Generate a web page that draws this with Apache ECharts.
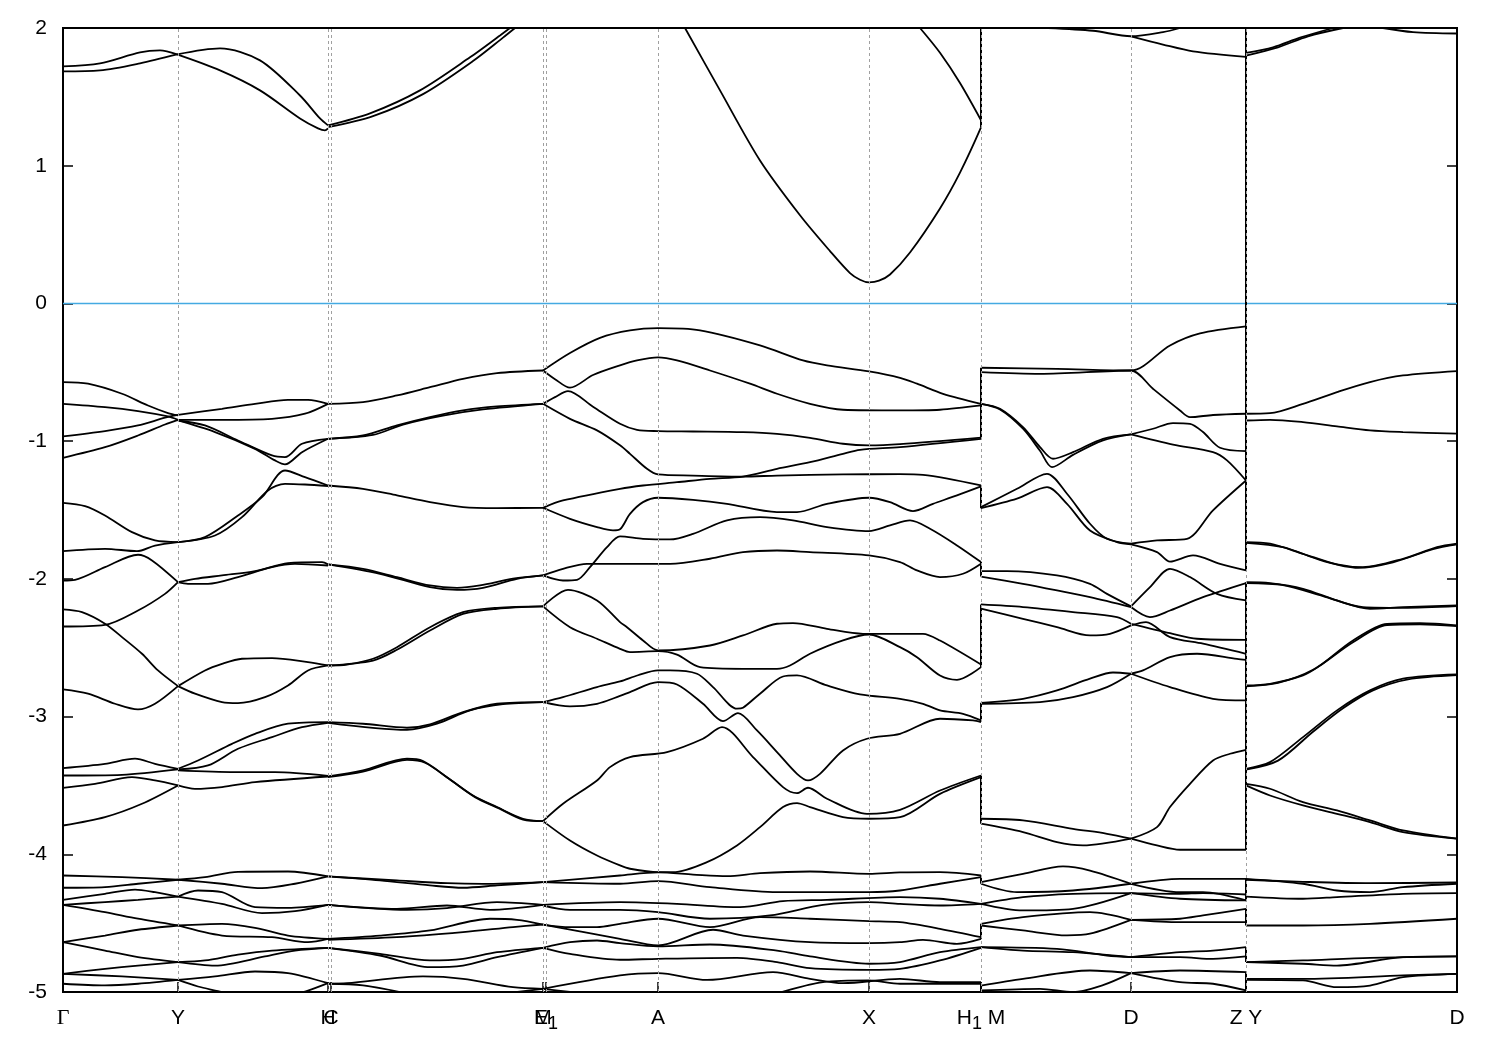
<!DOCTYPE html>
<html><head><meta charset="utf-8">
<script src="https://cdn.jsdelivr.net/npm/echarts@6/dist/echarts.min.js"></script>
<style>html,body{margin:0;padding:0;background:#fff}#c{width:1500px;height:1050px}</style>
</head><body><div id="c"></div>
<script>
// High-symmetry k-points (path distance units) and their labels
const kTicks = [0,115,265,268,480,483,595,806,918,1068,1183,1394];
const kLabels = ['Γ','Y','H','C','M','E1','A','X','H1M','D','ZY','D'];
const kGrid = [115,265,268,480,483,595,806,918,1068,1183];
const yTicks = [-5,-4,-3,-2,-1,0,1,2];

// Γ -> Y
const segGY = [
 [[0,1.721],[37,1.743],[77,1.823],[97,1.837],[114,1.808]],
 [[0,1.685],[37,1.692],[77,1.743],[114,1.808]],
 [[0,-0.571],[25,-0.583],[59,-0.656],[85,-0.741],[105,-0.796],[115,-0.813]],
 [[0,-0.729],[42,-0.753],[75,-0.782],[105,-0.821],[115,-0.845]],
 [[0,-0.966],[42,-0.927],[75,-0.886],[102,-0.830],[115,-0.810]],
 [[0,-1.121],[42,-1.044],[75,-0.959],[102,-0.879],[115,-0.845]],
 [[0,-1.448],[22,-1.472],[42,-1.540],[69,-1.661],[92,-1.721],[115,-1.733]],
 [[0,-1.799],[42,-1.782],[74,-1.799],[92,-1.758],[115,-1.733]],
 [[0,-2.012],[12,-2.007],[42,-1.915],[75,-1.825],[89,-1.866],[115,-2.024]],
 [[0,-2.222],[19,-2.242],[42,-2.326],[59,-2.423],[79,-2.544],[95,-2.665],[115,-2.779]],
 [[0,-2.346],[42,-2.334],[75,-2.230],[102,-2.109],[115,-2.024]],
 [[0,-2.803],[25,-2.834],[52,-2.907],[75,-2.948],[92,-2.907],[115,-2.779]],
 [[0,-3.374],[42,-3.343],[72,-3.306],[92,-3.343],[115,-3.379]],
 [[0,-3.428],[59,-3.423],[115,-3.384]],
 [[0,-3.517],[32,-3.488],[69,-3.440],[92,-3.464],[115,-3.500]],
 [[0,-3.791],[42,-3.730],[79,-3.633],[115,-3.500]],
 [[0,-4.154],[59,-4.166],[115,-4.185]],
 [[0,-4.243],[42,-4.238],[75,-4.214],[115,-4.185]],
 [[0,-4.331],[42,-4.287],[72,-4.256],[92,-4.275],[115,-4.307]],
 [[0,-4.367],[42,-4.347],[75,-4.331],[115,-4.307]],
 [[0,-4.367],[42,-4.420],[75,-4.468],[115,-4.517]],
 [[0,-4.638],[42,-4.590],[75,-4.548],[115,-4.517]],
 [[0,-4.638],[42,-4.699],[75,-4.747],[115,-4.783]],
 [[0,-4.868],[42,-4.832],[75,-4.808],[115,-4.783]],
 [[0,-4.940],[42,-4.952],[75,-4.940],[115,-4.912]],
 [[0,-4.868],[59,-4.887],[115,-4.912]]
];

// Y -> H
const segYH = [
 [[114,1.808],[157,1.852],[197,1.765],[237,1.510],[257,1.343],[265,1.293]],
 [[114,1.808],[157,1.692],[197,1.547],[237,1.343],[255,1.271],[262,1.256],[265,1.271]],
 [[115,-0.809],[159,-0.765],[192,-0.729],[225,-0.700],[245,-0.700],[265,-0.729]],
 [[115,-0.845],[159,-0.845],[209,-0.838],[242,-0.801],[265,-0.729]],
 [[115,-0.850],[142,-0.886],[175,-0.995],[209,-1.104],[222,-1.116],[239,-1.019],[265,-0.983]],
 [[115,-0.850],[152,-0.934],[192,-1.056],[212,-1.140],[222,-1.169],[239,-1.080],[265,-0.983]],
 [[115,-1.733],[142,-1.697],[175,-1.540],[199,-1.407],[222,-1.213],[242,-1.261],[265,-1.322]],
 [[115,-1.733],[152,-1.685],[179,-1.552],[205,-1.358],[222,-1.310],[242,-1.315],[265,-1.327]],
 [[115,-2.024],[132,-2.000],[159,-1.975],[192,-1.944],[225,-1.886],[259,-1.878],[265,-1.895]],
 [[115,-2.024],[125,-2.036],[145,-2.036],[175,-1.987],[209,-1.915],[232,-1.891],[265,-1.903]],
 [[115,-2.779],[142,-2.665],[159,-2.617],[179,-2.580],[209,-2.575],[245,-2.605],[265,-2.629]],
 [[115,-2.779],[132,-2.834],[159,-2.895],[175,-2.902],[202,-2.859],[225,-2.774],[245,-2.665],[265,-2.629]],
 [[115,-3.379],[135,-3.319],[169,-3.198],[192,-3.125],[225,-3.052],[265,-3.040]],
 [[115,-3.384],[145,-3.355],[175,-3.234],[209,-3.149],[239,-3.077],[265,-3.045]],
 [[115,-3.391],[172,-3.403],[212,-3.403],[265,-3.430]],
 [[115,-3.500],[132,-3.525],[159,-3.512],[192,-3.476],[265,-3.435]],
 [[115,-4.185],[142,-4.166],[175,-4.127],[225,-4.125],[265,-4.161]],
 [[115,-4.185],[159,-4.214],[199,-4.246],[232,-4.214],[265,-4.161]],
 [[115,-4.307],[135,-4.263],[159,-4.275],[192,-4.384],[225,-4.389],[265,-4.367]],
 [[115,-4.307],[159,-4.360],[199,-4.427],[232,-4.413],[265,-4.367]],
 [[115,-4.517],[159,-4.505],[192,-4.534],[225,-4.590],[265,-4.614]],
 [[115,-4.517],[159,-4.590],[209,-4.602],[245,-4.638],[265,-4.614]],
 [[115,-4.783],[142,-4.771],[175,-4.728],[209,-4.699],[265,-4.679]],
 [[115,-4.783],[152,-4.808],[202,-4.742],[232,-4.699],[265,-4.679]],
 [[115,-4.912],[152,-4.887],[192,-4.851],[225,-4.863],[265,-4.936]],
 [[115,-4.912],[135,-4.960],[155,-4.994],[175,-5.03]],
 [[225,-5.03],[245,-4.99],[265,-4.936]]
];

// C -> M
const segCM = [
 [[265,1.293],[307,1.380],[357,1.547],[407,1.787],[437,1.946],[447,2.0]],
 [[265,1.28],[310,1.36],[360,1.52],[410,1.76],[440,1.93],[452,2.0]],
 [[265,-0.729],[300,-0.717],[334,-0.668],[367,-0.608],[400,-0.547],[434,-0.506],[480,-0.487]],
 [[265,-0.983],[300,-0.959],[334,-0.886],[367,-0.826],[400,-0.777],[434,-0.748],[480,-0.729]],
 [[265,-0.983],[310,-0.955],[340,-0.880],[380,-0.815],[420,-0.770],[480,-0.729]],
 [[265,-1.322],[300,-1.346],[334,-1.394],[367,-1.443],[400,-1.479],[434,-1.486],[480,-1.484]],
 [[265,-1.895],[300,-1.927],[334,-1.988],[367,-2.048],[394,-2.065],[417,-2.048],[450,-1.999],[480,-1.975]],
 [[265,-1.895],[317,-1.963],[367,-2.060],[394,-2.080],[420,-2.065],[454,-2.000],[480,-1.975]],
 [[265,-2.629],[284,-2.622],[310,-2.580],[334,-2.496],[367,-2.351],[400,-2.242],[434,-2.210],[480,-2.200]],
 [[265,-2.629],[310,-2.593],[334,-2.515],[367,-2.375],[400,-2.254],[434,-2.217],[480,-2.200]],
 [[265,-3.040],[300,-3.052],[344,-3.081],[367,-3.057],[400,-2.968],[434,-2.907],[480,-2.895]],
 [[265,-3.045],[344,-3.096],[374,-3.052],[407,-2.955],[440,-2.910],[480,-2.895]],
 [[265,-3.435],[300,-3.391],[344,-3.306],[360,-3.323],[384,-3.440],[410,-3.573],[434,-3.657],[460,-3.742],[480,-3.759]],
 [[265,-3.440],[300,-3.400],[344,-3.315],[362,-3.335],[386,-3.452],[412,-3.585],[436,-3.667],[460,-3.748],[480,-3.759]],
 [[265,-4.161],[317,-4.190],[367,-4.226],[400,-4.243],[434,-4.226],[480,-4.202]],
 [[265,-4.161],[334,-4.190],[384,-4.210],[420,-4.215],[480,-4.202]],
 [[265,-4.367],[344,-4.403],[384,-4.391],[434,-4.348],[480,-4.367]],
 [[265,-4.367],[334,-4.396],[384,-4.372],[427,-4.403],[480,-4.367]],
 [[265,-4.614],[317,-4.590],[367,-4.553],[427,-4.468],[454,-4.476],[480,-4.510]],
 [[265,-4.621],[334,-4.602],[400,-4.565],[450,-4.529],[480,-4.510]],
 [[265,-4.679],[317,-4.723],[367,-4.771],[400,-4.759],[434,-4.711],[480,-4.679]],
 [[265,-4.679],[317,-4.735],[367,-4.820],[400,-4.808],[434,-4.747],[480,-4.679]],
 [[265,-4.940],[284,-4.936],[360,-4.887],[400,-4.904],[450,-4.965],[480,-4.977]],
 [[265,-4.940],[300,-4.952],[350,-5.02]],
 [[430,-5.02],[480,-4.977]]
];

// E1 -> A -> X -> H1
const segMX = [
 [[622,2.0],[657,1.547],[697,1.038],[737,0.640],[767,0.380],[787,0.220],[797,0.172],[806,0.153],[816,0.165],[827,0.210],[847,0.370],[877,0.690],[897,0.950],[918,1.278]],
 [[857,2.0],[877,1.82],[897,1.60],[918,1.33]],
 [[480,-0.487],[507,-0.36],[537,-0.25],[567,-0.196],[595,-0.18],[637,-0.196],[697,-0.305],[740,-0.414],[764,-0.450],[806,-0.494],[837,-0.540],[854,-0.583],[880,-0.656],[918,-0.729]],
 [[480,-0.487],[492,-0.55],[507,-0.612],[530,-0.52],[557,-0.45],[574,-0.414],[595,-0.392],[614,-0.414],[647,-0.487],[687,-0.583],[714,-0.656],[747,-0.729],[780,-0.772],[837,-0.777],[877,-0.772],[918,-0.741]],
 [[480,-0.729],[492,-0.68],[505,-0.637],[530,-0.75],[557,-0.874],[574,-0.918],[595,-0.927],[630,-0.930],[680,-0.935],[714,-0.947],[747,-0.976],[780,-1.019],[806,-1.031],[837,-1.022],[918,-0.975]],
 [[480,-0.729],[507,-0.838],[534,-0.922],[557,-1.030],[567,-1.092],[584,-1.201],[595,-1.242],[630,-1.250],[680,-1.257],[714,-1.250],[780,-1.242],[837,-1.240],[860,-1.245],[918,-1.322]],
 [[480,-1.484],[500,-1.431],[557,-1.346],[580,-1.322],[614,-1.298],[647,-1.274],[680,-1.257],[714,-1.201],[747,-1.153],[780,-1.092],[797,-1.063],[837,-1.043],[918,-0.983]],
 [[480,-1.484],[507,-1.564],[534,-1.624],[550,-1.648],[557,-1.640],[567,-1.528],[580,-1.443],[595,-1.411],[630,-1.426],[664,-1.455],[714,-1.515],[734,-1.515],[764,-1.455],[806,-1.411],[827,-1.443],[850,-1.508],[870,-1.455],[894,-1.394],[918,-1.329]],
 [[480,-1.975],[500,-2.012],[514,-2.007],[527,-1.915],[544,-1.770],[557,-1.692],[580,-1.709],[607,-1.714],[630,-1.673],[664,-1.576],[697,-1.552],[730,-1.576],[764,-1.624],[806,-1.653],[827,-1.612],[847,-1.576],[867,-1.636],[894,-1.757],[918,-1.878]],
 [[480,-1.975],[500,-1.927],[524,-1.891],[557,-1.891],[607,-1.891],[647,-1.854],[680,-1.806],[714,-1.794],[747,-1.806],[806,-1.830],[837,-1.878],[854,-1.939],[877,-1.987],[900,-1.963],[918,-1.890]],
 [[480,-2.200],[505,-2.080],[534,-2.157],[557,-2.314],[564,-2.351],[580,-2.447],[595,-2.520],[647,-2.484],[680,-2.411],[714,-2.326],[730,-2.321],[764,-2.363],[800,-2.399],[837,-2.399],[860,-2.399],[877,-2.448],[918,-2.622]],
 [[480,-2.200],[507,-2.351],[534,-2.435],[557,-2.508],[567,-2.532],[595,-2.525],[614,-2.550],[637,-2.641],[680,-2.653],[714,-2.653],[727,-2.629],[747,-2.544],[780,-2.447],[806,-2.404],[837,-2.496],[854,-2.569],[877,-2.702],[894,-2.733],[918,-2.641]],
 [[480,-2.895],[500,-2.859],[534,-2.786],[557,-2.745],[575,-2.700],[595,-2.665],[607,-2.665],[634,-2.689],[650,-2.786],[674,-2.943],[680,-2.936],[697,-2.834],[720,-2.709],[734,-2.701],[764,-2.774],[797,-2.839],[837,-2.871],[860,-2.907],[877,-2.955],[900,-2.980],[918,-3.028]],
 [[480,-2.895],[507,-2.926],[534,-2.907],[557,-2.850],[567,-2.822],[595,-2.750],[614,-2.767],[640,-2.907],[660,-3.033],[675,-2.975],[694,-3.101],[714,-3.258],[734,-3.416],[745,-3.464],[757,-3.416],[780,-3.246],[804,-3.161],[837,-3.125],[877,-3.016],[910,-3.028],[918,-3.040]],
 [[480,-3.759],[500,-3.633],[534,-3.464],[547,-3.367],[567,-3.294],[604,-3.258],[640,-3.161],[659,-3.077],[690,-3.294],[720,-3.512],[734,-3.556],[745,-3.517],[764,-3.597],[804,-3.706],[837,-3.677],[877,-3.537],[918,-3.428]],
 [[480,-3.759],[507,-3.900],[534,-4.009],[557,-4.081],[567,-4.105],[595,-4.130],[610,-4.130],[644,-4.057],[674,-3.936],[697,-3.803],[720,-3.657],[734,-3.628],[747,-3.657],[780,-3.730],[806,-3.742],[837,-3.730],[877,-3.561],[918,-3.440]],
 [[480,-4.202],[557,-4.154],[595,-4.132],[630,-4.147],[664,-4.159],[697,-4.137],[747,-4.125],[806,-4.142],[837,-4.132],[877,-4.130],[918,-4.154]],
 [[480,-4.202],[557,-4.214],[595,-4.195],[647,-4.238],[714,-4.275],[806,-4.275],[837,-4.263],[877,-4.214],[918,-4.166]],
 [[480,-4.367],[557,-4.348],[614,-4.360],[677,-4.384],[720,-4.340],[764,-4.331],[837,-4.311],[877,-4.323],[918,-4.360]],
 [[480,-4.372],[507,-4.403],[557,-4.403],[595,-4.420],[647,-4.468],[707,-4.444],[760,-4.367],[806,-4.347],[837,-4.360],[877,-4.372],[918,-4.360]],
 [[480,-4.510],[507,-4.529],[534,-4.529],[557,-4.505],[595,-4.468],[647,-4.529],[697,-4.456],[747,-4.468],[806,-4.485],[837,-4.493],[877,-4.541],[918,-4.602]],
 [[480,-4.510],[557,-4.614],[595,-4.662],[650,-4.548],[680,-4.590],[747,-4.638],[806,-4.645],[837,-4.638],[860,-4.621],[894,-4.650],[918,-4.614]],
 [[480,-4.679],[507,-4.638],[534,-4.626],[557,-4.645],[595,-4.669],[647,-4.655],[714,-4.699],[747,-4.742],[806,-4.795],[837,-4.783],[877,-4.711],[918,-4.674]],
 [[480,-4.679],[507,-4.723],[557,-4.766],[595,-4.759],[674,-4.752],[714,-4.783],[747,-4.827],[806,-4.839],[837,-4.832],[877,-4.771],[918,-4.679]],
 [[480,-4.977],[557,-4.880],[595,-4.863],[644,-4.912],[710,-4.856],[747,-4.904],[780,-4.936],[837,-4.904],[877,-4.929],[918,-4.929]],
 [[480,-4.977],[507,-5.0],[530,-5.02]],
 [[710,-5.02],[760,-4.929],[806,-4.916],[837,-4.940],[918,-4.940]]
];

// M -> D -> Z
const segMD = [
 [[985,2.0],[1030,1.98],[1068,1.94],[1100,1.97],[1117,2.0]],
 [[1068,1.94],[1100,1.88],[1130,1.83],[1183,1.79]],
 [[918,-0.467],[994,-0.475],[1068,-0.487],[1107,-0.305],[1137,-0.218],[1183,-0.167]],
 [[918,-0.499],[977,-0.511],[1068,-0.487],[1090,-0.62],[1117,-0.777],[1127,-0.826],[1150,-0.81],[1183,-0.801]],
 [[918,-0.729],[937,-0.765],[960,-0.898],[977,-1.043],[990,-1.128],[1010,-1.08],[1040,-0.983],[1068,-0.951]],
 [[918,-0.729],[937,-0.77],[960,-0.91],[977,-1.07],[989,-1.189],[1010,-1.10],[1040,-0.995],[1068,-0.951]],
 [[1068,-0.951],[1090,-0.91],[1110,-0.869],[1127,-0.874],[1140,-0.934],[1157,-1.048],[1183,-1.072]],
 [[1068,-0.951],[1110,-1.025],[1150,-1.080],[1164,-1.140],[1183,-1.286]],
 [[918,-1.479],[954,-1.346],[984,-1.237],[1004,-1.382],[1027,-1.600],[1044,-1.709],[1068,-1.745]],
 [[918,-1.487],[954,-1.418],[984,-1.334],[1004,-1.455],[1027,-1.649],[1054,-1.733],[1068,-1.750]],
 [[1068,-1.745],[1094,-1.721],[1124,-1.709],[1150,-1.503],[1183,-1.286]],
 [[1068,-1.750],[1094,-1.806],[1107,-1.875],[1130,-1.830],[1157,-1.891],[1183,-1.939]],
 [[918,-1.944],[944,-1.944],[994,-1.975],[1027,-2.036],[1044,-2.109],[1068,-2.200]],
 [[918,-1.983],[960,-2.036],[994,-2.084],[1027,-2.133],[1068,-2.205]],
 [[1068,-2.200],[1087,-2.060],[1107,-1.927],[1127,-1.987],[1154,-2.109],[1183,-2.157]],
 [[1068,-2.205],[1087,-2.278],[1107,-2.230],[1140,-2.133],[1183,-2.031]],
 [[918,-2.186],[960,-2.205],[1010,-2.241],[1054,-2.278],[1068,-2.326]],
 [[918,-2.217],[960,-2.290],[994,-2.351],[1027,-2.411],[1047,-2.399],[1068,-2.338]],
 [[1068,-2.338],[1083,-2.314],[1107,-2.423],[1140,-2.471],[1183,-2.544]],
 [[1068,-2.326],[1107,-2.394],[1134,-2.435],[1183,-2.443]],
 [[918,-2.900],[960,-2.871],[994,-2.810],[1027,-2.725],[1050,-2.680],[1068,-2.689]],
 [[918,-2.907],[977,-2.895],[1010,-2.859],[1044,-2.786],[1068,-2.689]],
 [[1068,-2.689],[1080,-2.665],[1107,-2.568],[1134,-2.544],[1174,-2.581],[1183,-2.588]],
 [[1068,-2.689],[1107,-2.786],[1150,-2.871],[1183,-2.883]],
 [[918,-3.742],[960,-3.754],[1010,-3.815],[1044,-3.851],[1068,-3.887]],
 [[918,-3.778],[960,-3.839],[994,-3.912],[1020,-3.936],[1068,-3.887]],
 [[1068,-3.887],[1094,-3.803],[1107,-3.657],[1127,-3.488],[1150,-3.319],[1167,-3.270],[1183,-3.241]],
 [[1068,-3.887],[1094,-3.936],[1117,-3.967],[1183,-3.967]],
 [[918,-4.202],[960,-4.142],[1000,-4.088],[1027,-4.118],[1068,-4.214]],
 [[918,-4.214],[954,-4.275],[1010,-4.263],[1068,-4.214]],
 [[918,-4.360],[960,-4.311],[1010,-4.287],[1068,-4.282]],
 [[918,-4.360],[960,-4.408],[1010,-4.396],[1068,-4.282]],
 [[918,-4.505],[960,-4.456],[1027,-4.420],[1068,-4.476]],
 [[918,-4.517],[960,-4.553],[1004,-4.589],[1027,-4.577],[1068,-4.476]],
 [[918,-4.674],[960,-4.699],[1010,-4.711],[1068,-4.747]],
 [[918,-4.674],[994,-4.687],[1044,-4.735],[1068,-4.747]],
 [[918,-4.953],[960,-4.904],[1027,-4.844],[1068,-4.863]],
 [[918,-4.989],[977,-4.977],[1010,-5.001],[1040,-4.950],[1068,-4.863]],
 [[1068,-4.214],[1117,-4.178],[1183,-4.178]],
 [[1068,-4.214],[1117,-4.275],[1140,-4.275],[1183,-4.335]],
 [[1068,-4.282],[1117,-4.287],[1140,-4.282],[1183,-4.292]],
 [[1068,-4.282],[1117,-4.323],[1183,-4.335]],
 [[1068,-4.476],[1117,-4.468],[1140,-4.444],[1183,-4.396]],
 [[1068,-4.476],[1117,-4.493],[1183,-4.493]],
 [[1068,-4.747],[1117,-4.711],[1150,-4.700],[1183,-4.674]],
 [[1068,-4.747],[1117,-4.747],[1150,-4.760],[1183,-4.742]],
 [[1068,-4.863],[1117,-4.929],[1150,-4.940],[1183,-4.989]],
 [[1068,-4.863],[1117,-4.844],[1183,-4.856]]
];

// Y -> D
const segYD = [
 [[1183,1.82],[1210,1.86],[1237,1.93],[1270,2.0]],
 [[1183,1.80],[1215,1.86],[1245,1.94],[1280,2.0]],
 [[1320,2.0],[1350,1.97],[1394,1.96]],
 [[1183,-0.801],[1207,-0.797],[1240,-0.729],[1274,-0.644],[1307,-0.571],[1340,-0.523],[1394,-0.491]],
 [[1183,-0.850],[1207,-0.845],[1240,-0.862],[1274,-0.893],[1307,-0.922],[1340,-0.934],[1394,-0.946]],
 [[1183,-1.733],[1207,-1.745],[1240,-1.818],[1274,-1.895],[1300,-1.915],[1340,-1.854],[1374,-1.770],[1394,-1.745]],
 [[1183,-1.738],[1220,-1.770],[1260,-1.870],[1295,-1.920],[1330,-1.880],[1370,-1.785],[1394,-1.750]],
 [[1183,-2.024],[1207,-2.031],[1240,-2.072],[1274,-2.157],[1307,-2.217],[1340,-2.205],[1394,-2.193]],
 [[1183,-2.030],[1220,-2.045],[1260,-2.125],[1300,-2.205],[1340,-2.210],[1394,-2.198]],
 [[1183,-2.774],[1207,-2.762],[1240,-2.701],[1257,-2.630],[1290,-2.448],[1324,-2.327],[1357,-2.322],[1394,-2.338]],
 [[1183,-2.780],[1215,-2.755],[1250,-2.660],[1290,-2.460],[1324,-2.335],[1357,-2.330],[1394,-2.343]],
 [[1183,-3.379],[1207,-3.331],[1240,-3.149],[1274,-2.955],[1307,-2.810],[1340,-2.725],[1394,-2.694]],
 [[1183,-3.385],[1215,-3.320],[1250,-3.110],[1280,-2.940],[1310,-2.810],[1345,-2.730],[1394,-2.699]],
 [[1183,-3.488],[1207,-3.524],[1240,-3.621],[1274,-3.682],[1307,-3.754],[1340,-3.827],[1394,-3.887]],
 [[1183,-3.500],[1207,-3.573],[1240,-3.645],[1274,-3.706],[1307,-3.767],[1340,-3.839],[1394,-3.887]],
 [[1183,-4.178],[1240,-4.214],[1274,-4.263],[1307,-4.275],[1340,-4.239],[1394,-4.214]],
 [[1183,-4.185],[1240,-4.200],[1307,-4.210],[1394,-4.205]],
 [[1183,-4.307],[1240,-4.323],[1274,-4.311],[1340,-4.287],[1394,-4.282]],
 [[1183,-4.517],[1240,-4.517],[1307,-4.505],[1394,-4.468]],
 [[1183,-4.783],[1240,-4.795],[1274,-4.808],[1340,-4.747],[1394,-4.742]],
 [[1183,-4.783],[1240,-4.771],[1307,-4.752],[1394,-4.742]],
 [[1183,-4.912],[1240,-4.916],[1274,-4.965],[1307,-4.953],[1340,-4.892],[1394,-4.868]],
 [[1183,-4.905],[1240,-4.905],[1340,-4.880],[1394,-4.868]]
];

// vertical jumps where the path is discontinuous (energy from, energy to)
const jumpsH1 = [[2.0,1.28],[-0.467,-0.983],[-1.322,-1.487],[-1.878,-1.983],[-2.186,-2.641],[-2.900,-3.040],[-3.428,-3.778],[-4.154,-4.214],[-4.505,-4.614],[-4.929,-5.0]];
const jumpsZY = [[2.0,-1.939],[-2.024,-3.967],[-4.178,-4.335],[-4.396,-4.517],[-4.674,-4.783],[-4.856,-4.989]];
const kH1 = 918, kZ = 1183;
const fermi = [[0,0],[1394,0]];

const chart = echarts.init(document.getElementById('c'), null, {renderer:'canvas'});
const series = [];
const bandStyle = {color:'#000', width:1.8};
function addBands(seg){
  seg.forEach(function(l){
    series.push({type:'line', data:l, showSymbol:false, smooth:0.3, silent:true,
      lineStyle:bandStyle, animation:false, z:3, clip:true});
  });
}
[segGY, segYH, segCM, segMX, segMD, segYD].forEach(addBands);
function addJumps(k, arr){
  arr.forEach(function(p){
    series.push({type:'line', data:[[k,p[0]],[k,p[1]]], showSymbol:false, smooth:false, silent:true,
      lineStyle:{color:'#000', width:2}, animation:false, z:3, clip:true});
  });
}
addJumps(kH1, jumpsH1);
addJumps(kZ, jumpsZY);

series.push({type:'line', data:fermi, showSymbol:false, silent:true, animation:false, z:2,
  lineStyle:{color:'#44aae2', width:1.6},
  markLine:{silent:true, symbol:'none', animation:false, label:{show:false},
    lineStyle:{type:[3,3], color:'#a0a0a0', width:1},
    data:kGrid.map(function(v){return {xAxis:v};})}
});

function kFmt(v){
  const i = kTicks.indexOf(v);
  const s = i >= 0 ? kLabels[i] : '';
  if (s === 'Γ') return '{g|Γ}';
  if (s === 'E1') return '{n|E}{s|1}';
  if (s === 'H1M') return '{n|H}{s|1}{n| M}';
  if (s === 'ZY') return '{n|Z Y}';
  return '{n|' + s + '}';
}
const FONT = 'Liberation Sans, Arial, sans-serif';

chart.setOption({
  backgroundColor:'#fff',
  animation:false,
  grid:{left:63, right:43, top:28, bottom:58, show:true, borderColor:'#000', borderWidth:2, backgroundColor:'transparent'},
  xAxis:[{
    type:'value', min:0, max:1394, position:'bottom',
    axisLine:{show:true, onZero:false, lineStyle:{color:'#000', width:2}},
    axisTick:{show:true, inside:true, length:10, customValues:kTicks, lineStyle:{color:'#000', width:1.5}},
    axisLabel:{show:true, customValues:kTicks, margin:11, formatter:kFmt, color:'#000',
      rich:{
        n:{fontSize:21, lineHeight:30, fontFamily:FONT, color:'#000'},
        s:{fontSize:18, lineHeight:18, verticalAlign:'bottom', fontFamily:FONT, color:'#000'},
        g:{fontSize:22, lineHeight:30, fontFamily:'Liberation Serif, DejaVu Serif, serif', color:'#000'}
      }},
    splitLine:{show:false}
  }],
  yAxis:[{
    type:'value', min:-5, max:2, interval:1, position:'left',
    axisLine:{show:true, onZero:false, lineStyle:{color:'#000', width:2}},
    axisTick:{show:true, inside:true, length:10, lineStyle:{color:'#000', width:1.5}},
    axisLabel:{show:true, fontSize:21, fontFamily:FONT, color:'#000', margin:16},
    splitLine:{show:false}
  },{
    type:'value', min:-5, max:2, interval:1, position:'right',
    axisLine:{show:true, onZero:false, lineStyle:{color:'#000', width:2}},
    axisTick:{show:true, inside:true, length:10, lineStyle:{color:'#000', width:1.5}},
    axisLabel:{show:false},
    splitLine:{show:false}
  }],
  series:series
});
</script></body></html>
